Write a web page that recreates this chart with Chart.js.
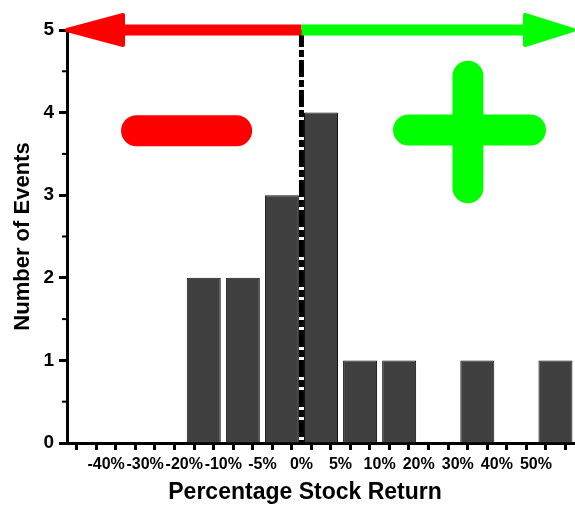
<!DOCTYPE html>
<html>
<head>
<meta charset="utf-8">
<script src="https://cdn.jsdelivr.net/npm/chart.js@4/dist/chart.umd.min.js"></script>
<style>
  html, body { margin: 0; padding: 0; background: #fff; }
</style>
</head>
<body>
<canvas id="chart" width="575" height="506"></canvas>
<script>

// bin edges written under the x axis
const edgeLabels = ['-40%', '-30%', '-20%', '-10%', '-5%', '0%', '5%', '10%', '20%', '30%', '40%', '50%'];
// events per return bin, 13 bins: below -40% ... above 50%
const binCounts = [0, 0, 0, 2, 2, 3, 4, 1, 1, 0, 1, 0, 1];
const yTicks = [0, 1, 2, 3, 4, 5];

const zeroEdge = edgeLabels.indexOf('0%') + 1;

function arrow(ctx, fromX, tipX, yy, color, headLen) {
    const dir = Math.sign(tipX - fromX);
    const baseX = tipX - dir * headLen;
    ctx.save();
    ctx.strokeStyle = color;
    ctx.fillStyle = color;
    ctx.lineWidth = 11;
    ctx.beginPath();
    ctx.moveTo(fromX, yy);
    ctx.lineTo(baseX, yy);
    ctx.stroke();
    ctx.lineJoin = 'round';
    ctx.lineWidth = 4;
    ctx.beginPath();
    ctx.moveTo(tipX - dir * 2, yy);
    ctx.lineTo(baseX, yy - 15);
    ctx.lineTo(baseX, yy + 15);
    ctx.closePath();
    ctx.fill();
    ctx.stroke();
    ctx.restore();
}

function bar(ctx, x1, y1, x2, y2, color) {
    ctx.save();
    ctx.strokeStyle = color;
    ctx.lineWidth = 31;
    ctx.lineCap = 'round';
    ctx.beginPath();
    ctx.moveTo(x1, y1);
    ctx.lineTo(x2, y2);
    ctx.stroke();
    ctx.restore();
}

const signs = {
    id: 'signs',
    afterDatasetsDraw(chart) {
        const { ctx, scales: { x, y } } = chart;
        const zeroX = x.getPixelForValue(zeroEdge);
        const topY = y.getPixelForValue(y.max);
        const baseY = y.getPixelForValue(0);

        // minor ticks on y
        ctx.save();
        ctx.strokeStyle = '#000';
        ctx.lineWidth = 2;
        for (let v = 0.5; v < y.max; v += 1) {
            const py = y.getPixelForValue(v);
            ctx.beginPath();
            ctx.moveTo(x.left - 5, py);
            ctx.lineTo(x.left, py);
            ctx.stroke();
        }
        ctx.restore();

        // dash-dot line at 0%
        ctx.save();
        ctx.lineWidth = 5;
        ctx.strokeStyle = '#fff';
        ctx.beginPath();
        ctx.moveTo(zeroX, topY);
        ctx.lineTo(zeroX, baseY);
        ctx.stroke();
        ctx.strokeStyle = '#000';
        ctx.setLineDash([17, 3, 7, 3]);
        ctx.stroke();
        ctx.restore();

        arrow(ctx, zeroX, x.left - 2, topY, '#ff0000', 58);
        arrow(ctx, zeroX, x.right, topY, '#00ff00', 50);

        // minus sign
        const my = y.getPixelForValue(3.78);
        bar(ctx, x.getPixelForValue(1.78), my, x.getPixelForValue(4.34), my, '#ff0000');

        // plus sign
        const px = x.getPixelForValue(10.26);
        const py = y.getPixelForValue(3.79);
        bar(ctx, x.getPixelForValue(8.74), py, x.getPixelForValue(11.86), py, '#00ff00');
        bar(ctx, px, y.getPixelForValue(4.44), px, y.getPixelForValue(3.09), '#00ff00');
    }
};

Chart.defaults.font.family = '"Liberation Sans", Arial, sans-serif';
Chart.defaults.color = '#000';

new Chart(document.getElementById('chart'), {
    type: 'bar',
    data: {
        datasets: [{
            data: binCounts.map((c, i) => ({ x: i + 0.5, y: c })),
            backgroundColor: '#404040',
            borderColor: '#111',
            borderWidth: 1,
            // ticks sit every half bin, so the ruler unit is half a bin
            barPercentage: 1.74,
            categoryPercentage: 1
        }]
    },
    options: {
        responsive: false,
        animation: false,
        layout: { padding: { top: 30, right: 0, left: 0, bottom: 0 } },
        plugins: { legend: { display: false }, tooltip: { enabled: false } },
        scales: {
            x: {
                type: 'linear',
                offset: false,
                min: 0,
                max: binCounts.length,
                afterFit: s => { s.height = 63; s.paddingLeft = 0; s.paddingRight = 0; },
                afterBuildTicks: s => {
                    s.ticks = [];
                    for (let v = 0; v <= binCounts.length; v += 0.5) s.ticks.push({ value: v });
                },
                ticks: {
                    autoSkip: false,
                    maxRotation: 0,
                    padding: 5,
                    font: { size: 16, weight: 'bold' },
                    callback: v => (Number.isInteger(v) && edgeLabels[v - 1]) ? edgeLabels[v - 1] : ''
                },
                grid: { drawOnChartArea: false, drawTicks: true, tickLength: 7, tickWidth: 3, tickColor: '#000' },
                border: { display: true, color: '#000', width: 3 },
                title: {
                    display: true,
                    text: 'Percentage Stock Return     ',
                    font: { size: 23, weight: 'bold' },
                    padding: { top: 0, bottom: 0 }
                }
            },
            y: {
                min: 0,
                max: 5,
                afterFit: s => { s.width = 67; },
                afterBuildTicks: s => { s.ticks = yTicks.map(v => ({ value: v })); },
                ticks: { padding: 5, font: { size: 19, weight: 'bold' } },
                grid: { drawOnChartArea: false, drawTicks: true, tickLength: 8, tickWidth: 3, tickColor: '#000' },
                border: { display: true, color: '#000', width: 3 },
                title: {
                    display: true,
                    text: 'Number of Events',
                    font: { size: 22, weight: 'bold' },
                    padding: { top: 10, bottom: 0 }
                }
            }
        }
    },
    plugins: [signs]
});
</script>
</body>
</html>
